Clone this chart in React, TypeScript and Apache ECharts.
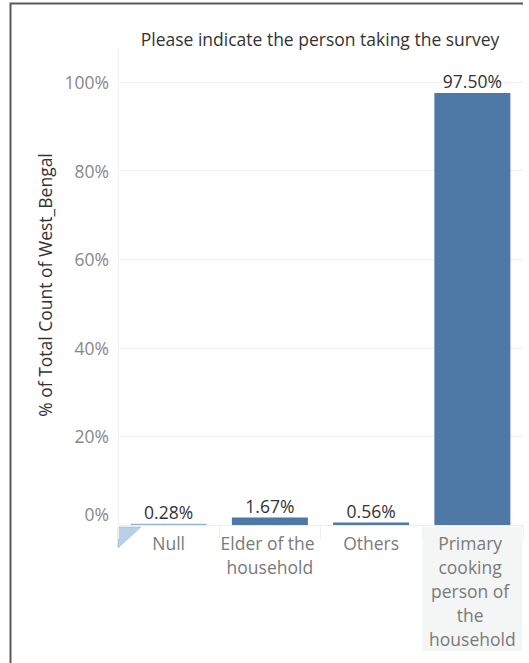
import React, { useEffect, useRef } from "react";
import * as echarts from "echarts";

const categories = ["Null", "Elder of the household", "Others", "Primary cooking person of the household"];
const values = [0.28, 1.67, 0.56, 97.5];
const barColors = ["#94b4d4", "#4e79a7", "#4e79a7", "#4e79a7"];
const yTicks = [0, 20, 40, 60, 80, 100];
const highlighted = "Primary cooking person of the household";

const FONT = "'Open Sans', 'Noto Sans', sans-serif";
const FS = 17.5;

export default function App() {
  const ref = useRef<HTMLDivElement>(null);
  useEffect(() => {
    if (!ref.current) return;
    const chart = echarts.init(ref.current, undefined, { renderer: "svg" });
    const option: any = {
      animation: false,
      backgroundColor: "#ffffff",
      textStyle: { fontFamily: FONT },
      title: {
        text: "Please indicate the person taking the survey",
        left: 315,
        top: 25,
        textAlign: "center",
        textStyle: { fontFamily: FONT, fontSize: 17.5, fontWeight: "normal", color: "#333333" },
      },
      grid: { left: 118, right: 6, top: 82, bottom: 138, containLabel: false },
      xAxis: {
        type: "category",
        data: categories.map((c) =>
          c === highlighted
            ? { value: c, textStyle: { backgroundColor: "#f4f5f5", padding: [4, 0, 0, 0] } }
            : c
        ),
        axisLine: { show: true, lineStyle: { color: "#ececec", width: 1 } },
        axisTick: { show: true, length: 14, lineStyle: { color: "#f0f0f0" } },
        axisLabel: {
          interval: 0,
          margin: 2,
          width: 100,
          overflow: "break",
          fontSize: FS,
          lineHeight: 24,
          color: "#7a7a7a",
          fontFamily: FONT,
          padding: [4, 0, 0, 0],
        },
      },
      yAxis: {
        type: "value",
        min: 0,
        max: 100,
        interval: 20,
        axisLine: { show: true, lineStyle: { color: "#f0f0f0" } },
        axisTick: { show: false },
        splitLine: { show: true, lineStyle: { color: "#f2f2f2", width: 1 } },
        axisLabel: {
          margin: 9,
          fontSize: FS,
          color: "#888888",
          fontFamily: FONT,
          formatter: (v: number) => (yTicks.includes(v) ? (v === 0 ? "{z|0%}" : v + "%") : ""),
          rich: { z: { fontSize: FS, color: "#888888", fontFamily: FONT, padding: [0, 0, 23, 0] } },
        },
      },
      series: [
        {
          type: "bar",
          data: values.map((v, i) => ({ value: v, itemStyle: { color: barColors[i] } })),
          barWidth: 76,
          label: {
            show: true,
            position: "top",
            distance: 3,
            fontSize: FS,
            color: "#333333",
            fontFamily: FONT,
            formatter: (p: any) => p.value.toFixed(2) + "%",
          },
        },
      ],
      graphic: [
        {
          type: "polyline",
          shape: { points: [[10.5, 663], [10.5, 3.5], [523, 3.5]] },
          style: { stroke: "#5a5a5a", lineWidth: 2, fill: null },
          silent: true,
        },
        {
          type: "line",
          shape: { x1: 118.5, y1: 48, x2: 118.5, y2: 82 },
          style: { stroke: "#f0f0f0", lineWidth: 1 },
          silent: true,
        },
        {
          type: "text",
          x: 45,
          y: 285,
          rotation: Math.PI / 2,
          style: {
            text: "% of Total Count of West_Bengal",
            fontSize: FS,
            fill: "#333333",
            fontFamily: FONT,
            align: "center",
            verticalAlign: "middle",
          },
        },
        {
          type: "polygon",
          shape: { points: [[118, 527], [141, 527], [118, 548]] },
          style: { fill: "#b9d0e8", stroke: "#8fb0d2", lineWidth: 0.5 },
          silent: true,
        },
      ],
    };
    chart.setOption(option);
    return () => chart.dispose();
  }, []);
  return (
    <div
      ref={ref}
      style={{ position: "fixed", left: 0, top: 0, width: 529, height: 663 }}
    />
  );
}
